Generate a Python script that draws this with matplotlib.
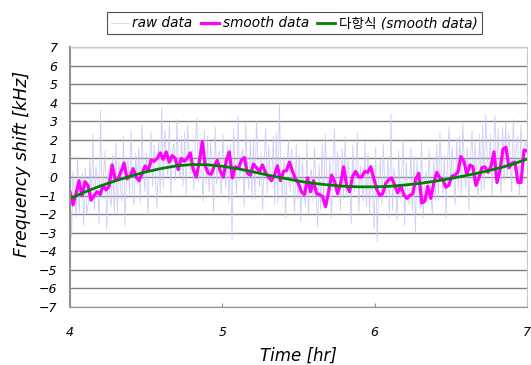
import matplotlib
matplotlib.use('Agg')
import matplotlib.pyplot as plt
import numpy as np

plt.rcParams['font.family'] = ['DejaVu Sans', 'Noto Sans CJK KR']
plt.rcParams['axes.unicode_minus'] = True

# 시간 범위 [hr]
t_start, t_end = 4.0, 7.0

# raw data [kHz] (등간격 샘플)
raw_data = [
    -0.5, -3.3, 0.3, -1.0, -2.2, 1.1, -1.9, -0.4, 0.2, -2.6, 0.5, -2.0, -1.4, 0.9, -1.1,
    2.3, -1.8, 0.6, -0.2, -2.5, 3.6, -1.2, 0.1, 1.4, -2.8, 0.4, -1.0, -1.6, 1.2, -2.1,
    1.9, -2.0, 0.8, -0.6, -1.3, 2.2, -2.6, 0.3, 1.0, -0.9, 2.5, -1.1, -1.5, 1.3, -0.4,
    1.6, -1.4, 2.8, 0.6, -0.8, 1.2, -2.1, 0.9, 2.4, -0.5, 1.7, -0.2, -1.7, 2.0, -0.9,
    3.7, -0.6, 2.5, 1.0, 0.1, 2.9, -0.9, 1.5, 1.8, -0.2, 3.1, 0.4, 0.0, 2.2, -0.5,
    2.4, -1.0, 2.8, 1.1, 0.2, 1.5, -0.7, 1.9, 3.2, -0.3, 2.0, 0.6, -1.3, 2.5, -0.4,
    2.2, -0.8, 1.9, 0.4, -1.9, 2.7, -0.4, 1.2, 1.4, -1.1, 2.3, 0.2, -0.6, 1.7, -1.4,
    1.8, -3.4, 2.6, 0.3, -0.9, 3.3, -0.2, 1.0, 1.5, -1.6, 2.9, 0.5, -0.7, 2.0, -1.2,
    2.1, -1.2, 3.0, 0.7, -0.5, 1.3, -1.8, 0.9, 2.6, -0.9, 1.7, 0.1, -0.3, 2.2, -1.5,
    2.4, -1.4, 3.9, 0.2, -1.0, 1.1, -2.2, 0.6, 2.0, -0.8, 1.5, -0.3, -1.9, 1.8, -1.2,
    1.2, -2.4, 0.8, -0.5, -1.6, 1.9, -2.1, -0.2, 0.4, -1.3, 1.6, -0.9, -2.7, 0.7, -1.8,
    1.8, -1.5, 2.3, 0.1, -0.9, 1.0, -2.2, 0.5, 2.6, -0.6, 1.4, -0.1, -1.8, 1.5, -1.2,
    2.2, -1.1, 0.9, -0.3, -2.5, 1.7, -0.8, 0.4, 2.4, -1.9, 0.6, -0.5, -1.3, 1.9, -1.6,
    1.3, -2.0, 0.7, -0.8, -2.8, 1.6, -3.5, -0.1, 0.9, -1.5, 1.8, -0.6, -1.0, 1.1, -2.2,
    3.4, -1.8, 0.5, -0.4, -2.3, 1.4, -1.2, 0.3, 2.0, -2.6, 0.8, -0.7, -1.5, 1.6, -1.9,
    1.1, -3.0, 0.9, -0.6, -1.7, 1.9, -2.2, -0.1, 0.3, -1.4, 1.5, -0.8, -2.0, 1.0, -1.3,
    1.8, -1.3, 2.4, 0.5, -0.9, 1.2, -2.2, 0.8, 2.7, -0.4, 1.6, 0.0, -1.5, 2.1, -0.7,
    2.2, -1.0, 2.9, 0.6, -0.6, 1.6, -1.8, 0.9, 2.5, -0.3, 1.9, 0.2, -1.2, 2.3, -0.8,
    2.8, -0.7, 3.4, 1.0, 0.1, 2.3, -1.0, 1.4, 3.3, -0.2, 2.6, 0.6, -0.9, 2.7, -0.3,
    3.0, 0.0, 2.4, 1.2, -0.8, 3.1, 0.3, 1.6, 2.2, -1.1, 2.8, 0.8, 1.2, 2.0, 1.3,
]

# smooth data [kHz]
smooth_data = [
    -0.8, -1.5, -0.9, -0.2, -1.0, -0.25, -0.45, -1.25, -1.0, -0.8,
    -0.95, -0.45, -0.7, -0.5, 0.65, -0.1, -0.1, 0.3, 0.75, -0.1,
    0.05, 0.45, 0.0, -0.2, 0.2, 0.6, 0.35, 0.9, 0.85, 1.0,
    1.3, 0.95, 1.35, 0.8, 1.15, 1.0, 0.4, 1.0, 0.85,
    1.0, 1.3, 0.4, 0.0, 0.8, 1.9, 0.6, 0.2, 0.15, 0.6,
    0.9, 0.3, 0.0, 0.9, 1.35, -0.05, 0.55, 0.45, 0.9, 1.05,
    0.2, 0.1, 0.7, 0.5, 0.3, 0.65, 0.25, 0.0, -0.2, 0.1,
    0.6, -0.2, 0.3, 0.35, 0.8, 0.3, -0.1, -0.35, -0.8,
    -0.95, -0.05, -0.8, -0.2, -0.9, -0.95, -1.05, -1.6, -0.8, 0.1,
    -0.25, -0.9, -0.35, 0.55, -0.45, -0.8, 0.05, 0.3, 0.0, 0.0,
    0.3, 0.25, 0.55, -0.05, -0.65, -1.0, -0.9, -0.35, -0.15, -0.05,
    -0.45, -0.85, -0.45, -0.95, -1.15, -1.0, -0.9, -0.1, 0.2,
    -1.4, -1.3, -0.5, -1.15, -0.3, 0.25, -0.05, -0.15, -0.55, -0.45,
    0.05, 0.1, 0.25, 1.1, 0.85, 0.15, 0.65, 0.55, -0.45, -0.05,
    0.5, 0.55, 0.25, 0.55, 1.35, -0.3, 0.35, 1.5, 1.6, 0.5,
    0.75, 0.8, -0.3, -0.3, 1.45, 1.4,
]

# 다항식 추세선 (smooth data)
poly_t = [4.0, 4.1, 4.2, 4.3, 4.4, 4.5, 4.6, 4.7, 4.8, 4.9, 5.0,
          5.1, 5.2, 5.3, 5.4, 5.5, 5.6, 5.7, 5.8, 5.9, 6.0,
          6.1, 6.2, 6.3, 6.4, 6.5, 6.6, 6.7, 6.8, 6.9, 7.0]
poly_fit = [-1.15, -0.8, -0.48, -0.2, 0.05, 0.28, 0.46, 0.6, 0.67, 0.66, 0.58,
            0.45, 0.28, 0.1, -0.06, -0.22, -0.34, -0.43, -0.5, -0.53, -0.53,
            -0.5, -0.43, -0.34, -0.22, -0.08, 0.08, 0.25, 0.45, 0.67, 0.97]

raw_t = np.linspace(t_start, t_end, len(raw_data))
smooth_t = np.linspace(t_start, t_end, len(smooth_data))

fig = plt.figure(figsize=(5.31, 3.65), dpi=100)
ax = fig.add_axes([0.1318, 0.1589, 0.8607, 0.7123])

ax.plot(raw_t, raw_data, color='#c4c4f6', lw=0.6, alpha=0.85, label='raw data')
ax.plot(smooth_t, smooth_data, color='#ff00ff', lw=2.3, label='smooth data')
ax.plot(poly_t, poly_fit, color='#008000', lw=2.0, label='다항식 (smooth data)')

ax.set_xlim(4, 7)
ax.set_ylim(-7, 7)
ax.set_xticks([4, 5, 6, 7])
ax.set_yticks(range(-7, 8))
ax.yaxis.grid(True, color='#808080', lw=1.0)
ax.set_axisbelow(True)

for s in ['top', 'right']:
    ax.spines[s].set_color('#c8c8c8')
for s in ['left', 'bottom']:
    ax.spines[s].set_color('#909090')
ax.spines['left'].set_linewidth(1.5)

ax.tick_params(axis='y', length=0, pad=9, labelsize=9)
ax.tick_params(axis='x', direction='in', length=3, color='#909090', pad=14, labelsize=9)
for lab in ax.get_xticklabels() + ax.get_yticklabels():
    lab.set_style('italic')

ax.set_xlabel('Time [hr]', fontsize=12, style='italic', labelpad=5)
fig.text(0.042, 0.55, 'Frequency shift [kHz]', rotation=90, fontsize=12.5,
         style='italic', ha='center', va='center')

leg = fig.legend(loc='upper center', bbox_to_anchor=(0.554, 0.985), ncol=3,
                 fancybox=False, framealpha=1, edgecolor='#505050',
                 handlelength=1.3, handletextpad=0.3, columnspacing=0.6,
                 borderpad=0.3, prop={'style': 'italic', 'size': 9.8})
leg.get_frame().set_linewidth(0.8)

fig.savefig('out.png', dpi=100)
